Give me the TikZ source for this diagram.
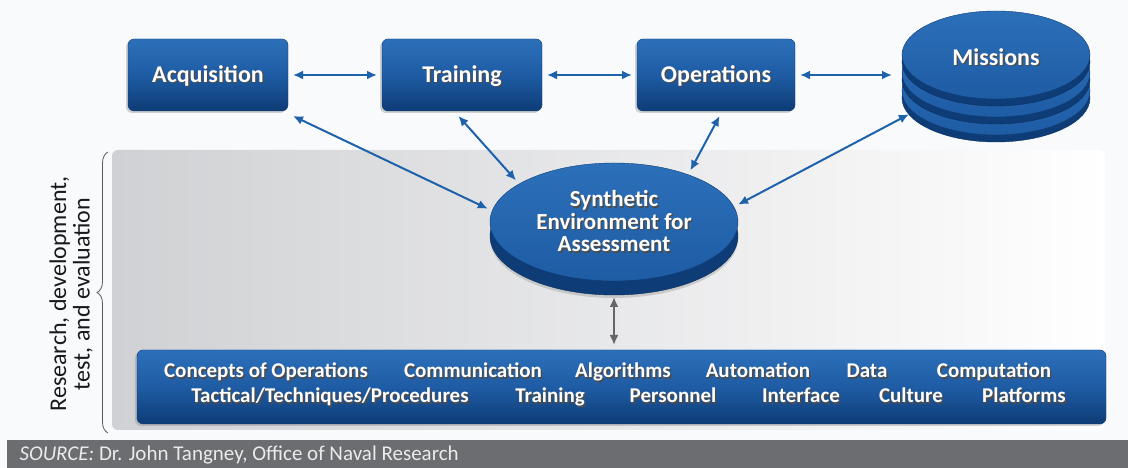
\documentclass[tikz,border=0pt]{standalone}
\usepackage{fontspec}
\setmainfont{Carlito}
\usetikzlibrary{positioning}
\usetikzlibrary{arrows.meta}
\usetikzlibrary{shadows}
\usetikzlibrary{shapes.geometric}
\usetikzlibrary{decorations.pathreplacing}
\definecolor{boxblue}{RGB}{30,92,164}
\definecolor{boxlight}{RGB}{44,112,186}
\definecolor{boxdark}{RGB}{14,60,118}
\definecolor{linkblue}{RGB}{30,98,172}
\definecolor{panelgray}{RGB}{208,209,212}
\definecolor{sourcegray}{RGB}{108,109,112}
\definecolor{backwhite}{RGB}{248,250,252}
\newcommand{\shtext}[1]{\makebox[0pt][l]{\raisebox{-1.5pt}{\hspace{1.5pt}\textcolor{black!70}{#1}}}#1}

\begin{document}
\begin{tikzpicture}[x=1pt, y=1pt, >={Latex[length=10pt,width=9pt]},
box/.style={rectangle, rounded corners=6pt, minimum width=160pt, minimum height=72pt, top color=boxlight, bottom color=boxdark, middle color=boxblue, draw=boxdark, text=white, font=\fontsize{24}{26}\selectfont\bfseries, text height=18pt, text depth=3pt, outer sep=5pt, drop shadow={shadow xshift=-2pt, shadow yshift=-2pt, opacity=0.35}},
disc/.style={ellipse, minimum width=188pt, minimum height=88pt, inner sep=0pt, top color=boxlight, bottom color=boxblue, draw=boxdark, text=white, font=\fontsize{24}{26}\selectfont\bfseries, outer sep=5pt},
rim/.style={fill=boxdark, draw=boxdark!80!black},
item/.style={text=white, font=\fontsize{21}{22}\selectfont\bfseries, inner sep=0pt, anchor=base},
link/.style={<->, draw=linkblue, line width=2pt},
glink/.style={<->, draw=black!60, line width=2pt}]

\useasboundingbox (0,0) rectangle (1128,468);
\fill[backwhite] (0,0) rectangle (1128,468);

%% RDT&E panel
\shade[left color=panelgray, right color=white, rounded corners=6pt] (112,38) rectangle (1105,318);
\coordinate (bl) at (108,35);
\coordinate (tl) at (108,316);
\draw[decorate, decoration={brace, amplitude=11pt}, black!65, line width=0.8pt] (bl) -- (tl);
\node[rotate=90, align=center, text=black!90, font=\fontsize{24}{23.5}\selectfont] (rdte) at (71,174) {Research, development,\\test, and evaluation};

%% top row
\node[box] (acq) at (208,393) {\shtext{Acquisition}};
\node[box] (train) at (462,393) {\shtext{Training}};
\node[box, minimum width=158pt] (ops) at (716,393) {\shtext{Operations}};

% missions stack
\foreach \nm/\y/\t in {misc/377/{}, misb/395/{}, mis/413/Missions} {
  \fill[rim] (996,\y-7) ellipse (94 and 44);
  \node[disc, text height=24pt, text depth=3pt] (\nm) at (996,\y) {\shtext{\t}};
}

%% synthetic environment
\fill[rim, drop shadow={shadow xshift=0pt, shadow yshift=-3pt, opacity=0.3}] (614,232) ellipse (124 and 59);
\node[disc, minimum width=248pt, minimum height=118pt, align=center, font=\fontsize{23}{22.5}\selectfont\bfseries] (sea) at (614,246) {\shtext{Synthetic}\\\shtext{Environment for}\\\shtext{Assessment}};

%% bottom box
\node[box, minimum width=969pt, minimum height=74pt] (bot) at (621.5,81) {};
\foreach \x/\t [count=\i] in {266/{Concepts of Operations}, 473/Communication, 623/Algorithms, 758/Automation, 867/Data, 994/Computation}
  \node[item] (up\i) at (\x,90) {\shtext{\t}};
\foreach \x/\t [count=\i] in {330/{Tactical/Techniques/Procedures}, 550/Training, 673/Personnel, 801/Interface, 911/Culture, 1024/Platforms}
  \node[item] (low\i) at (\x,65) {\shtext{\t}};

%% links
\draw[link] (acq) -- (train);
\draw[link] (train) -- (ops);
\draw[link, shorten >=5pt] (ops.east) -- (ops.east -| misb.west);
\draw[link] (acq.south east) -- (sea.174);
\draw[link] (train.-95) -- (sea.157);
\draw[link] (ops.-85) -- (sea.34);
\draw[link] (misc.195) -- (sea.8);
\draw[glink, shorten <=11pt] (sea.south) -- (sea.south |- bot.north);

%% source
\fill[sourcegray] (7,0) rectangle (1128,28);
\node[anchor=base west, text=black!8, font=\fontsize{21}{22}\selectfont] (src) at (16,7) {\textit{SOURCE:} Dr. John Tangney, Office of Naval Research};
\end{tikzpicture}
\end{document}
